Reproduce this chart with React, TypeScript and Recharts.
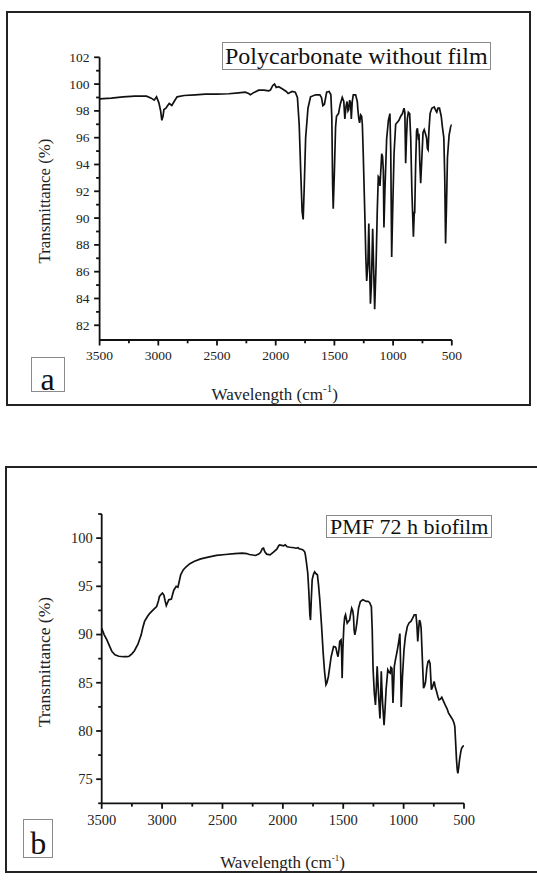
import React from 'react';
import { LineChart, Line, XAxis, YAxis } from 'recharts';

// ---------- Panel a: Polycarbonate without film ----------
const waveA = [
  3500, 3400, 3300, 3200, 3100, 3060, 3035, 3015, 2995, 2980, 2970, 2960, 2952, 2935, 2920, 2907, 2885, 2865, 2840,
  2780, 2685, 2600, 2500, 2400, 2316, 2260, 2230, 2216, 2180, 2145, 2100, 2060, 2045, 2025, 2010, 1995, 1975, 1945,
  1910, 1894, 1860, 1833, 1815, 1800, 1785, 1775, 1766, 1758, 1745, 1725, 1703, 1660, 1624, 1610, 1598, 1585, 1566,
  1545, 1530, 1522, 1515, 1510, 1500, 1490, 1482, 1465, 1450, 1433, 1420, 1411, 1400, 1392, 1384, 1378, 1370, 1362,
  1356, 1348, 1339, 1319, 1305, 1300, 1292, 1285, 1276, 1268, 1262, 1255, 1240, 1232, 1225, 1215, 1207, 1200, 1193,
  1185, 1174, 1165, 1157, 1145, 1135, 1126, 1118, 1112, 1105, 1097, 1090, 1083, 1078, 1070, 1055, 1040, 1027, 1020,
  1012, 1005, 992, 978, 950, 935, 920, 907, 900, 893, 886, 879, 870, 859, 850, 840, 827, 820, 816, 808, 800, 793, 785,
  779, 772, 765, 755, 745, 735, 728, 715, 708, 702, 695, 685, 670, 650, 635, 628, 618, 605, 590, 580, 568, 560, 553,
  545, 537, 523, 510, 500,
];
const transA = [
  98.9, 98.95, 99.05, 99.1, 99.1, 98.95, 98.8, 99.05, 98.6, 98.0, 97.3, 97.6, 98.1, 98.2, 98.4, 98.55, 98.4, 98.7, 99.05,
  99.15, 99.2, 99.25, 99.25, 99.28, 99.35, 99.4, 99.3, 99.2, 99.4, 99.55, 99.55, 99.5, 99.55, 99.9, 100.0, 99.75, 99.8, 99.65,
  99.45, 99.3, 99.45, 99.4, 99.0, 97.0, 93.0, 90.5, 89.9, 92.0, 96.0, 98.2, 99.05, 99.2, 99.2, 99.0, 98.4, 98.5, 99.4,
  99.45, 99.2, 97.5, 92.5, 90.7, 93.5, 96.8, 97.6, 97.8, 98.5, 99.0, 98.7, 97.4, 98.4, 98.7, 98.0, 98.1, 98.8, 98.6,
  97.4, 98.7, 99.2, 99.2, 98.7, 98.1, 97.4, 97.1, 97.7, 97.6, 97.0, 95.0, 90.0, 87.0, 85.3, 86.5, 89.6, 86.5, 83.6,
  85.0, 89.2, 86.0, 83.2, 86.5, 90.5, 93.1, 93.0, 92.4, 93.5, 94.8, 94.6, 93.5, 89.3, 92.0, 95.9, 97.3, 97.8, 95.0,
  87.1, 90.0, 94.8, 97.0, 97.3, 97.6, 97.8, 98.2, 97.9, 94.1, 96.0, 97.4, 97.9, 97.8, 96.0, 92.0, 88.6, 90.4, 90.4, 94.0, 96.5, 96.7, 96.0,
  96.1, 94.0, 92.6, 94.5, 96.4, 96.6, 96.4, 96.0, 95.2, 95.1, 96.5, 97.8, 98.2, 98.3, 98.0, 97.9, 98.2, 98.2, 97.6, 96.8, 96.0, 93.0, 88.1,
  91.0, 94.5, 96.2, 96.8, 97.0,
];

// ---------- Panel b: PMF 72 h biofilm ----------
const waveB = [
  3500, 3480, 3457, 3435, 3415, 3390, 3358, 3320, 3290, 3273, 3250, 3230, 3200, 3173, 3160, 3145, 3120, 3102, 3070, 3045,
  3030, 3022, 3005, 2997, 2985, 2975, 2965, 2955, 2945, 2923, 2912, 2903, 2883, 2869, 2860, 2846, 2825, 2803, 2770, 2732,
  2680, 2618, 2550, 2476, 2400, 2334, 2300, 2277, 2250, 2226, 2200, 2185, 2170, 2160, 2150, 2135, 2106, 2078, 2050, 2035,
  2027, 2010, 1993, 1980, 1964, 1940, 1907, 1890, 1875, 1865, 1836, 1820, 1814, 1805, 1794, 1785, 1776, 1771, 1765, 1757,
  1745, 1737, 1725, 1714, 1705, 1694, 1680, 1666, 1655, 1643, 1635, 1623, 1610, 1600, 1580, 1565, 1560, 1550, 1543, 1535,
  1529, 1518, 1513, 1509, 1503, 1495, 1488, 1481, 1467, 1455, 1447, 1438, 1430, 1422, 1415, 1410, 1404, 1395, 1387, 1380,
  1373, 1358, 1338, 1320, 1310, 1295, 1282, 1267, 1260, 1253, 1243, 1233, 1226, 1219, 1208, 1196, 1190, 1185, 1180, 1174,
  1162, 1155, 1145, 1131, 1121, 1111, 1105, 1097, 1088, 1077, 1066, 1054, 1040, 1031, 1025, 1020, 1010, 997, 985, 969,
  955, 940, 925, 912, 898, 890, 883, 876, 869, 862, 855, 845, 835, 826, 818, 808, 798, 790, 781, 775, 770, 760, 747, 737,
  727, 717, 707, 695, 684, 670, 656, 640, 628, 610, 593, 582, 576, 570, 562, 556, 551, 544, 537, 527, 520, 510, 500,
];
const transB = [
  90.66, 90.0, 89.45, 88.8, 88.24, 87.9, 87.75, 87.7, 87.7, 87.75, 88.0, 88.3, 89.0, 89.97, 90.7, 91.36, 91.9, 92.2, 92.6, 92.9,
  93.5, 93.95, 94.2, 94.3, 94.1, 93.5, 93.0, 93.3, 93.6, 93.67, 94.2, 94.6, 95.0, 94.9, 95.4, 96.2, 96.7, 97.0, 97.35, 97.6,
  97.85, 98.03, 98.2, 98.3, 98.4, 98.44, 98.4, 98.3, 98.25, 98.2, 98.35, 98.5, 98.9, 98.96, 98.6, 98.34, 98.27, 98.55, 98.86, 99.2,
  99.3, 99.25, 99.2, 99.3, 99.1, 99.05, 99.0, 98.95, 99.0, 98.9, 98.8, 98.6, 98.3, 97.5, 96.4, 94.5, 92.0, 91.5, 93.5, 95.7,
  96.3, 96.5, 96.3, 96.2, 95.2, 93.6, 91.0, 88.07, 86.2, 84.8, 85.0, 85.65, 86.8, 87.7, 88.76, 88.7, 88.6, 88.0, 87.7, 88.5,
  89.3, 89.45, 88.0, 85.48, 88.5, 90.84, 91.8, 92.05, 91.18, 91.4, 91.5, 92.2, 92.74, 92.5, 91.9, 90.5, 89.97, 90.5, 91.2, 92.0,
  92.74, 93.43, 93.6, 93.5, 93.43, 93.45, 93.33, 92.9, 90.5, 86.5, 84.0, 82.7, 84.5, 86.7, 83.9, 81.3, 83.5, 86.2, 84.5, 82.9,
  80.6, 82.0, 84.3, 86.34, 86.1, 86.0, 86.6, 86.5, 82.9, 86.7, 87.5, 88.24, 89.3, 90.1, 87.0, 82.5, 85.5, 88.4, 89.8, 90.84,
  91.2, 91.36, 91.7, 92.05, 92.05, 91.0, 89.28, 90.5, 91.5, 91.3, 90.66, 87.5, 84.44, 84.7, 85.13, 86.5, 87.2, 87.3, 87.0, 85.5, 84.27, 84.6, 85.13, 84.5,
  84.1, 83.6, 83.23, 83.3, 83.5, 83.1, 82.7, 82.3, 81.85, 81.5, 81.15, 80.8, 80.46, 79.0, 77.0, 76.0, 75.6, 76.2, 77.0, 77.8, 78.2, 78.4, 78.46,
];

// ---------- Tick values ----------
const xMajorTicks = [3500, 3000, 2500, 2000, 1500, 1000, 500];
const xMinorTicks = [3250, 2750, 2250, 1750, 1250, 750];
const yMajorA = [82, 84, 86, 88, 90, 92, 94, 96, 98, 100, 102];
const yMinorA = [83, 85, 87, 89, 91, 93, 95, 97, 99, 101];
const yMajorB = [75, 80, 85, 90, 95, 100];
const yMinorB = [72.5, 77.5, 82.5, 87.5, 92.5, 97.5, 102.5];

const titleA = 'Polycarbonate without film';
const titleB = 'PMF 72 h biofilm';
const yLabel = 'Transmittance (%)';

const SERIF = "'Liberation Serif', 'DejaVu Serif', 'Times New Roman', serif";
const INK = '#111';
const TEXT = '#222';

const dataA = waveA.map((w, i) => ({ w, t: transA[i] }));
const dataB = waveB.map((w, i) => ({ w, t: transB[i] }));

const makeXTick = (majors: number[], fontSize: number, labelDy: number) => (props: any) => {
  const { x, y, payload } = props;
  const major = majors.includes(payload.value);
  return (
    <g>
      <line x1={x} y1={y} x2={x} y2={y + (major ? 5.5 : 3.3)} stroke={INK} strokeWidth={1.8} />
      {major && (
        <text x={x} y={y + labelDy} textAnchor="middle" fontSize={fontSize} fontFamily={SERIF} fill={TEXT}>
          {payload.value}
        </text>
      )}
    </g>
  );
};

const makeYTick = (majors: number[], fontSize: number, gap: number) => (props: any) => {
  const { x, y, payload } = props;
  const major = majors.includes(payload.value);
  return (
    <g>
      <line x1={x - (major ? 5.5 : 3.5)} y1={y} x2={x} y2={y} stroke={INK} strokeWidth={1.8} />
      {major && (
        <text x={x - gap} y={y + fontSize * 0.34} textAnchor="end" fontSize={fontSize} fontFamily={SERIF} fill={TEXT}>
          {payload.value}
        </text>
      )}
    </g>
  );
};

const sortDesc = (a: number[]) => [...a].sort((p, q) => q - p);

export default function App() {
  const frame: React.CSSProperties = {
    position: 'absolute',
    boxSizing: 'border-box',
    border: '2px solid #222',
  };
  const thinBox: React.CSSProperties = {
    position: 'absolute',
    boxSizing: 'border-box',
    border: '1px solid #8a8a8a',
    background: '#fff',
  };
  return (
    <div
      style={{
        position: 'absolute',
        left: 0,
        top: 0,
        width: 537,
        height: 895,
        overflow: 'hidden',
        background: '#fff',
      }}
    >
      {/* frames */}
      <div style={{ ...frame, left: 6, top: 10.5, width: 525, height: 395.5 }} />
      <div style={{ ...frame, left: 5, top: 466, width: 545, height: 407 }} />

      {/* panel a chart */}
      <div style={{ position: 'absolute', left: 0, top: 0 }}>
        <LineChart width={537} height={420} data={dataA} margin={{ top: 57.3, right: 85.2, bottom: 50, left: 39.6 }}>
          <XAxis
            dataKey="w"
            type="number"
            domain={[500, 3500]}
            reversed
            allowDataOverflow
            ticks={sortDesc([...xMajorTicks, ...xMinorTicks])}
            interval={0}
            tickSize={0}
            tickMargin={0}
            tickLine={false}
            height={30}
            axisLine={{ stroke: INK, strokeWidth: 1.8 }}
            tick={makeXTick(xMajorTicks, 13.5, 19.7)}
          />
          <YAxis
            type="number"
            domain={[80.9, 102]}
            allowDataOverflow
            ticks={[...yMajorA, ...yMinorA].sort((p, q) => p - q)}
            interval={0}
            tickSize={0}
            tickMargin={0}
            tickLine={false}
            width={60}
            axisLine={{ stroke: INK, strokeWidth: 1.8 }}
            tick={makeYTick(yMajorA, 13.5, 10)}
          />
          <Line type="linear" dataKey="t" stroke={INK} strokeWidth={1.7} dot={false} isAnimationActive={false} />
        </LineChart>
      </div>

      {/* panel b chart */}
      <div style={{ position: 'absolute', left: 0, top: 460 }}>
        <LineChart width={537} height={435} data={dataB} margin={{ top: 54, right: 73, bottom: 61.7, left: 41.7 }}>
          <XAxis
            dataKey="w"
            type="number"
            domain={[500, 3500]}
            reversed
            allowDataOverflow
            ticks={sortDesc([...xMajorTicks, ...xMinorTicks])}
            interval={0}
            tickSize={0}
            tickMargin={0}
            tickLine={false}
            height={30}
            axisLine={{ stroke: INK, strokeWidth: 1.8 }}
            tick={makeXTick(xMajorTicks, 14.5, 21.3)}
          />
          <YAxis
            type="number"
            domain={[72.5, 102.5]}
            allowDataOverflow
            ticks={[...yMajorB, ...yMinorB].sort((p, q) => p - q)}
            interval={0}
            tickSize={0}
            tickMargin={0}
            tickLine={false}
            width={60}
            axisLine={{ stroke: INK, strokeWidth: 1.8 }}
            tick={makeYTick(yMajorB, 14.5, 9)}
          />
          <Line type="linear" dataKey="t" stroke={INK} strokeWidth={1.7} dot={false} isAnimationActive={false} />
        </LineChart>
      </div>

      {/* title boxes */}
      <div
        style={{
          ...thinBox,
          left: 221.5,
          top: 42,
          width: 269,
          height: 28,
          fontFamily: SERIF,
          fontSize: 24,
          lineHeight: '26px',
          color: INK,
          paddingLeft: 2.5,
          whiteSpace: 'nowrap',
        }}
      >
        {titleA}
      </div>
      <div
        style={{
          ...thinBox,
          left: 326,
          top: 515,
          width: 166,
          height: 23,
          fontFamily: SERIF,
          fontSize: 22,
          lineHeight: '22px',
          color: INK,
          paddingLeft: 3,
          whiteSpace: 'nowrap',
        }}
      >
        {titleB}
      </div>

      {/* panel letter boxes */}
      <div style={{ ...thinBox, left: 31, top: 357.3, width: 33.5, height: 35 }} />
      <div style={{ ...thinBox, left: 22.7, top: 819, width: 30.8, height: 38.5 }} />

      {/* text overlay */}
      <svg width={537} height={895} style={{ position: 'absolute', left: 0, top: 0, pointerEvents: 'none' }}>
        <text x={47.5} y={389.5} textAnchor="middle" fontFamily={SERIF} fontSize={32} fill={INK}>
          a
        </text>
        <text x={38.2} y={853.5} textAnchor="middle" fontFamily={SERIF} fontSize={32} fill={INK}>
          b
        </text>

        <text
          x={44}
          y={201}
          textAnchor="middle"
          dominantBaseline="central"
          transform="rotate(-90 44 201)"
          fontFamily={SERIF}
          fontSize={16.8}
          fill={TEXT}
        >
          {yLabel}
        </text>
        <text
          x={44}
          y={662}
          textAnchor="middle"
          dominantBaseline="central"
          transform="rotate(-90 44 662)"
          fontFamily={SERIF}
          fontSize={17.5}
          fill={TEXT}
        >
          {yLabel}
        </text>

        <text x={274.7} y={400} textAnchor="middle" fontFamily={SERIF} fontSize={17} fill={TEXT}>
          Wavelength (cm
          <tspan fontSize={11} dy={-8}>-1</tspan>
          <tspan dy={8}>)</tspan>
        </text>
        <text x={282.5} y={868} textAnchor="middle" fontFamily={SERIF} fontSize={17} fill={TEXT}>
          Wavelength (cm
          <tspan fontSize={9} dy={-7}>-1</tspan>
          <tspan dy={7}>)</tspan>
        </text>
      </svg>
    </div>
  );
}
